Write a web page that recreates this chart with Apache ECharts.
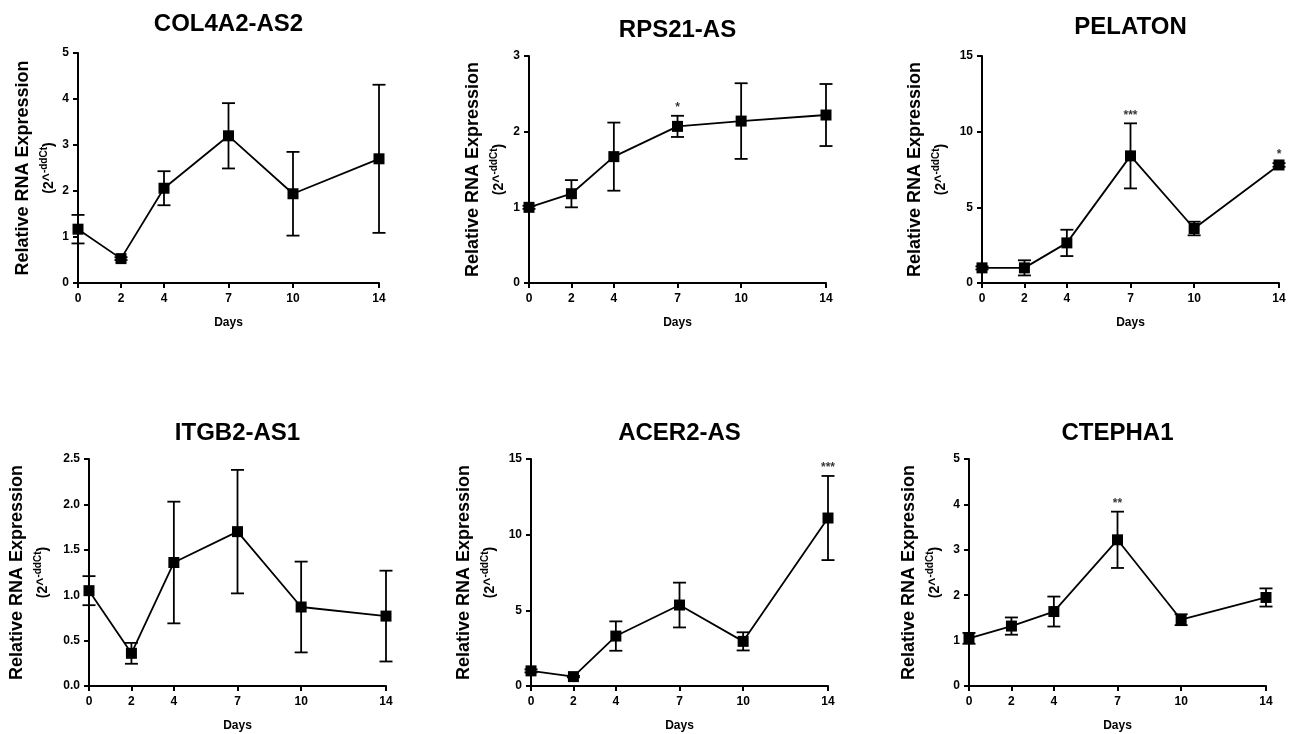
<!DOCTYPE html>
<html><head><meta charset="utf-8">
<script src="https://cdn.jsdelivr.net/npm/echarts@6/dist/echarts.min.js"></script>
<style>html,body{margin:0;padding:0;background:#fff}#chart{width:1298px;height:734px}</style>
</head><body><div id="chart"></div>
<script>
// ---- data ----
const days = [0, 2, 4, 7, 10, 14];
const dayTicks = [0, 2, 4, 7, 10, 14];

const col4a2Mean = [1.17, 0.53, 2.06, 3.20, 1.94, 2.70];
const col4a2Err  = [0.31, 0.03, 0.37, 0.71, 0.91, 1.61];
const col4a2Sig  = ['', '', '', '', '', ''];

const rps21Mean = [1.00, 1.18, 1.67, 2.07, 2.14, 2.22];
const rps21Err  = [0.02, 0.18, 0.45, 0.14, 0.50, 0.41];
const rps21Sig  = ['', '', '', '*', '', ''];

const pelatonMean = [1.00, 1.00, 2.65, 8.40, 3.60, 7.80];
const pelatonErr  = [0.10, 0.50, 0.87, 2.15, 0.45, 0.12];
const pelatonSig  = ['', '', '', '***', '', '*'];

const itgb2Mean = [1.05, 0.36, 1.36, 1.70, 0.87, 0.77];
const itgb2Err  = [0.16, 0.115, 0.67, 0.68, 0.50, 0.50];
const itgb2Sig  = ['', '', '', '', '', ''];

const acer2Mean = [1.00, 0.62, 3.30, 5.35, 2.95, 11.10];
const acer2Err  = [0.10, 0.05, 0.97, 1.48, 0.60, 2.78];
const acer2Sig  = ['', '', '', '', '', '***'];

const ctephaMean = [1.05, 1.32, 1.64, 3.22, 1.46, 1.95];
const ctephaErr  = [0.12, 0.19, 0.33, 0.62, 0.12, 0.20];
const ctephaSig  = ['', '', '', '**', '', ''];

const panelTitles = ['COL4A2-AS2', 'RPS21-AS', 'PELATON', 'ITGB2-AS1', 'ACER2-AS', 'CTEPHA1'];
const yMaxes = [5, 3, 15, 2.5, 15, 5];
const ySteps = [1, 1, 5, 0.5, 5, 1];
const yDecimals = [0, 0, 0, 1, 0, 0];

const means = [col4a2Mean, rps21Mean, pelatonMean, itgb2Mean, acer2Mean, ctephaMean];
const errs = [col4a2Err, rps21Err, pelatonErr, itgb2Err, acer2Err, ctephaErr];
const sigs = [col4a2Sig, rps21Sig, pelatonSig, itgb2Sig, acer2Sig, ctephaSig];

// ---- layout (pixel positions) ----
const grids = [
  {left: 78,  top: 53,  width: 301, height: 230, titleY: 25, nameGap: 19},
  {left: 529, top: 56,  width: 297, height: 227, titleY: 31, nameGap: 20},
  {left: 982, top: 56,  width: 297, height: 227, titleY: 28, nameGap: 31},
  {left: 89,  top: 459, width: 297, height: 227, titleY: 434, nameGap: 36},
  {left: 531, top: 459, width: 297, height: 227, titleY: 434, nameGap: 31},
  {left: 969, top: 459, width: 297, height: 227, titleY: 434, nameGap: 24}
];

const FONT = '"Liberation Sans", Arial, Helvetica, sans-serif';
const option = {
  animation: false,
  backgroundColor: '#ffffff',
  title: [], grid: [], xAxis: [], yAxis: [], series: []
};

grids.forEach((g, i) => {
  option.title.push({
    text: panelTitles[i],
    left: g.left + g.width / 2,
    top: g.titleY - 13,
    textAlign: 'center',
    padding: 0,
    textStyle: {fontFamily: FONT, fontSize: 24, fontWeight: 'bold', color: '#000'}
  });
  option.grid.push({left: g.left, top: g.top, width: g.width, height: g.height, containLabel: false});
  option.xAxis.push({
    type: 'value', gridIndex: i, min: 0, max: 14, interval: 1,
    name: 'Days', nameLocation: 'middle', nameGap: 34,
    nameTextStyle: {fontFamily: FONT, fontSize: 12, fontWeight: 'bold', color: '#000'},
    axisLine: {show: true, onZero: false, lineStyle: {color: '#000', width: 2}},
    axisTick: {show: true, customValues: dayTicks, length: 5, lineStyle: {color: '#000', width: 2}},
    axisLabel: {show: true, customValues: dayTicks, margin: 10, fontFamily: FONT, fontSize: 12, fontWeight: 'bold', color: '#000'},
    splitLine: {show: false}
  });
  const dec = yDecimals[i];
  option.yAxis.push({
    type: 'value', gridIndex: i, min: 0, max: yMaxes[i], interval: ySteps[i],
    name: '{a|Relative RNA Expression}\n{b|(2^}{c|-ddCt}{b|)}',
    nameLocation: 'middle', nameRotate: 90, nameGap: g.nameGap,
    nameTextStyle: {
      color: '#000',
      rich: {
        a: {fontFamily: FONT, fontSize: 18, fontWeight: 'bold', color: '#000', lineHeight: 32},
        b: {fontFamily: FONT, fontSize: 14, fontWeight: 'bold', color: '#000', lineHeight: 20},
        c: {fontFamily: FONT, fontSize: 10, fontWeight: 'bold', color: '#000', lineHeight: 20, verticalAlign: 'top'}
      }
    },
    axisLine: {show: true, onZero: false, lineStyle: {color: '#000', width: 2}},
    axisTick: {show: true, length: 5, lineStyle: {color: '#000', width: 2}},
    axisLabel: {margin: 9, fontFamily: FONT, fontSize: 12, fontWeight: 'bold', color: '#000',
      formatter: v => Number(v).toFixed(dec)},
    splitLine: {show: false}
  });
  const m = means[i], e = errs[i], s = sigs[i];
  option.series.push({
    type: 'custom', xAxisIndex: i, yAxisIndex: i, z: 2, silent: true,
    data: days.map((d, k) => [d, m[k], e[k]]),
    encode: {x: 0, y: 1},
    renderItem: function (params, api) {
      const xv = api.value(0), yv = api.value(1), ev = api.value(2);
      const hi = api.coord([xv, yv + ev]);
      const lo = api.coord([xv, yv - ev]);
      const hw = 6.5;
      const st = {stroke: '#000', lineWidth: 1.8, fill: null};
      return {type: 'group', children: [
        {type: 'line', shape: {x1: hi[0], y1: hi[1], x2: lo[0], y2: lo[1]}, style: st},
        {type: 'line', shape: {x1: hi[0] - hw, y1: hi[1], x2: hi[0] + hw, y2: hi[1]}, style: st},
        {type: 'line', shape: {x1: lo[0] - hw, y1: lo[1], x2: lo[0] + hw, y2: lo[1]}, style: st}
      ]};
    }
  });
  option.series.push({
    type: 'line', xAxisIndex: i, yAxisIndex: i, z: 3, silent: true,
    data: days.map((d, k) => [d, m[k]]),
    symbol: 'rect', symbolSize: 11,
    lineStyle: {color: '#000', width: 1.8},
    itemStyle: {color: '#000'}
  });
  option.series.push({
    type: 'scatter', xAxisIndex: i, yAxisIndex: i, z: 4, silent: true,
    data: days.map((d, k) => [d, m[k] + e[k]]),
    symbolSize: 0,
    label: {show: true, position: 'top', distance: 2, color: '#000',
      fontFamily: FONT, fontSize: 12, fontWeight: 'bold',
      formatter: p => s[p.dataIndex]}
  });
});

const chart = echarts.init(document.getElementById('chart'), null, {renderer: 'canvas'});
chart.setOption(option);
</script>
</body></html>
